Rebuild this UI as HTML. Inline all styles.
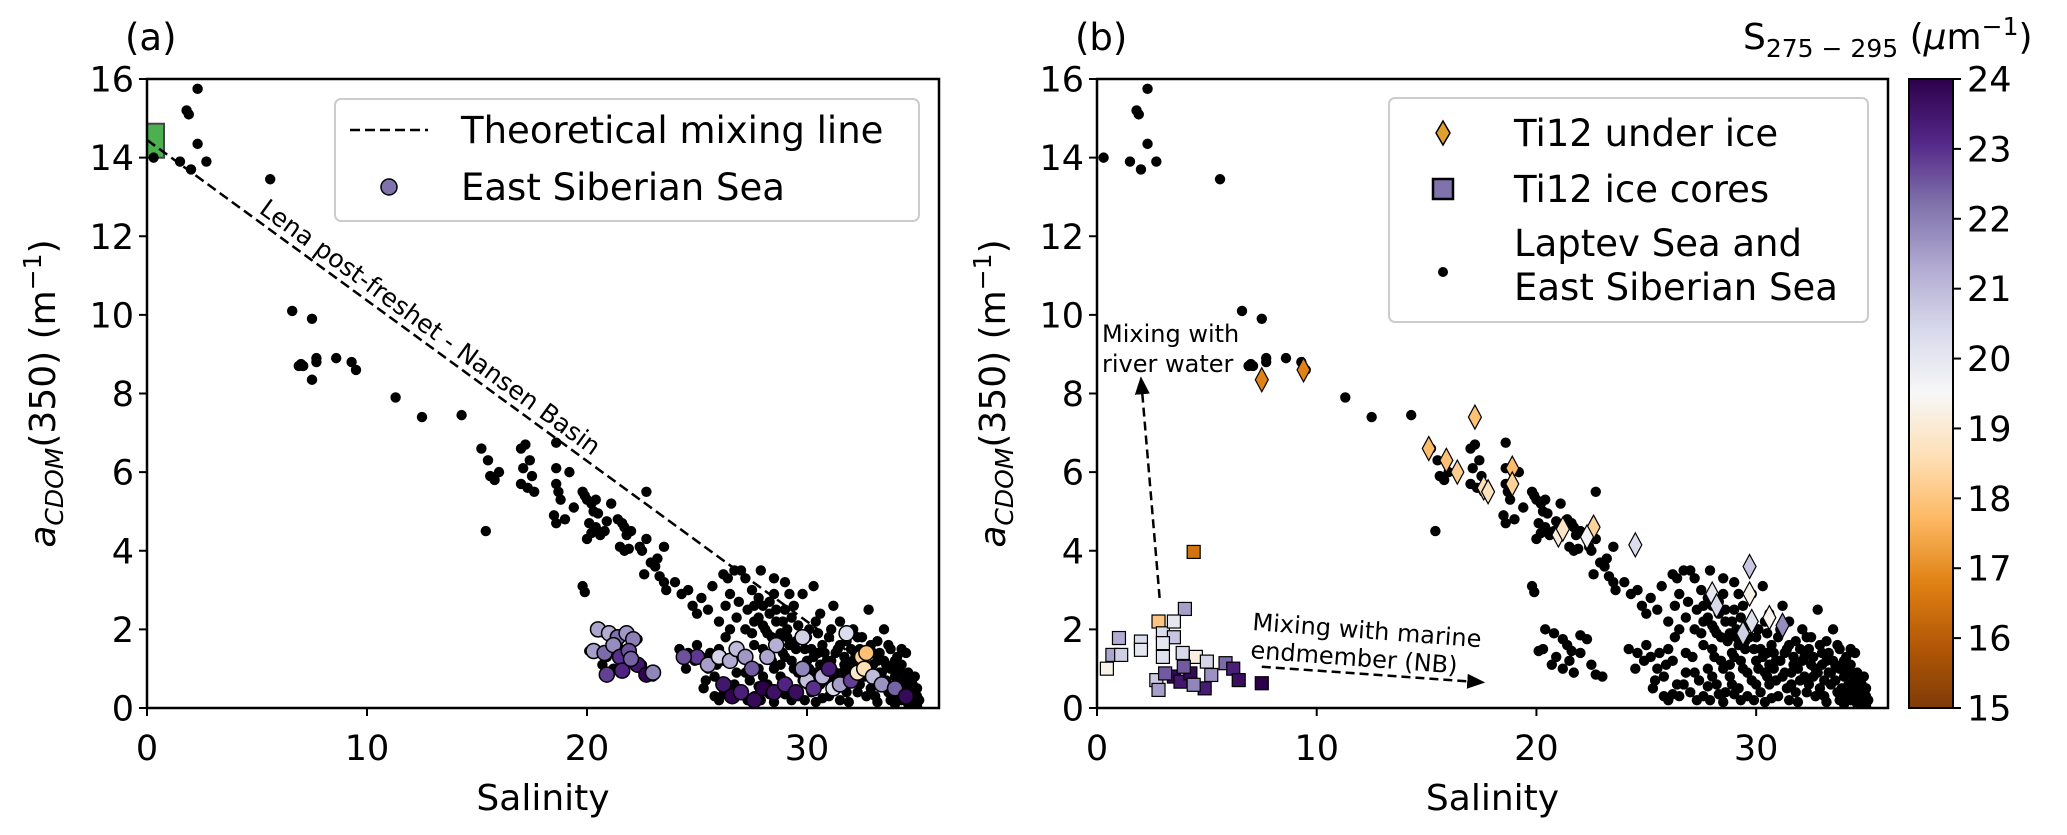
<!DOCTYPE html>
<html><head><meta charset="utf-8"><style>
html,body{margin:0;padding:0;background:#fff;}
svg{display:block;}
</style></head><body>
<svg id="fig" width="2067" height="835" viewBox="0 0 2067 835" xmlns="http://www.w3.org/2000/svg"></svg>
<script>
// ---------- DATA ----------
const xTicks=[0,10,20,30];
const yTicks=[0,2,4,6,8,10,12,14,16];
const cbTicks=[15,16,17,18,19,20,21,22,23,24];
const mixLineSal=[0,34.9];
const mixLineAcdom=[14.45,0.2];
const lenaSal=[0];
const lenaAcdom=[14.43];
const laptevPoints=[[0.3,14.0],[1.8,15.2],[1.9,15.1],[2.3,15.75],[2.3,14.35],[1.5,13.9],[2.0,13.7],[2.7,13.9],[5.6,13.45],
[6.6,10.1],[7.5,9.9],[6.9,8.7],[7.0,8.75],[7.1,8.7],[7.7,8.9],[7.7,8.8],[8.6,8.9],[9.3,8.8],[9.5,8.6],[7.5,8.35],[11.3,7.9],[12.5,7.4],[14.3,7.45],
[15.2,6.6],[15.5,6.3],[15.6,5.9],[15.8,5.8],[16,6.0],[15.4,4.5],
[17,6.6],[17.2,6.7],[17.1,6.1],[17.0,5.7],[17.4,6.3],[17.5,5.9],[17.6,5.5],[17.3,5.6],
[18.6,6.75],[18.6,6.1],[18.6,5.7],[18.7,5.5],[18.8,5.3],[18.6,4.7],[18.5,4.9],[19.2,6.0],[19.0,4.8],[19.4,5.1],
[19.8,5.5],[19.9,5.4],[20.0,5.3],[20.2,5.2],[20.3,5.0],[20.5,4.95],[20.1,4.7],[20.4,4.6],[20.0,4.3],[20.2,4.45],[20.6,4.4],[21.1,5.2],[20.9,4.75],[20.8,4.5],[20.4,5.3],
[21.4,4.8],[21.6,4.7],[21.7,4.6],[21.8,4.4],[21.5,4.1],[21.7,4.0],[21.9,4.05],[22,4.5],[22.4,4.1],[22.7,4.3],[22.7,5.5],[22.5,4.0],[22.9,3.7],[23.1,3.6],[22.6,3.4],[23.3,3.35],[23.5,3.2],[23.6,3.0],[23.2,3.8],[23.5,4.1],
[19.8,3.1],[19.9,2.95],[20.4,2.0],[20.8,1.9],[21.2,1.75],[21.4,1.6],[21.6,1.45],[21.5,1.2],[22,1.85],[22.3,1.75],[22,1.4],[22.5,1.1],[22.7,0.85],[23,0.8],[20.3,1.5],[20.9,1.3],[20.7,1.1],[21.2,1.0],[21.7,0.9],[20.1,1.45],
[24,3.2],[24.3,2.9],[24.6,3.0],[24.8,2.6],[25,2.4],[25.2,2.8],[25.5,2.5],[25.7,3.1],[26.0,2.2],[26.2,3.4],[26.4,3.3],[26.5,2.9],[26.7,3.5],[26.9,2.7],[27.0,3.5],[27.2,3.3],[27.3,2.5],[27.5,3.0],[27.6,2.2],[27.8,2.8],[28.0,2.6],[28.1,2.0],[28.3,2.4],[28.5,3.3],[28.6,2.2],[28.8,1.9],[29.0,2.5],[29.1,2.0],[29.3,2.3],[29.5,1.7],[29.6,2.1],[29.8,2.9],[30.0,1.8],[30.2,1.5],[30.4,2.2],[30.5,1.9],[30.7,1.6],[30.9,1.2],[31.0,1.8],[31.3,1.4],[31.5,2.2],[31.7,1.1],[32,1.5],[32.2,1.3],[32.5,1.8],[32.7,1.0],[33,1.4],[33.2,1.2],[33.4,0.9],[33.6,1.1],[33.8,1.5],[34,0.8],[34.2,1.0],[34.4,0.6],[34.6,0.5],[34.8,0.3],[34.9,0.15],[35,0.05],[34.7,0.7],[34.5,1.4],[33.5,2.0],[32.8,2.5],[32.1,2.0],[31.2,2.6],[30.3,3.1],[29.0,3.2],[27.9,3.5],
[24.2,1.5],[24.6,1.4],[24.9,1.2],[25.2,1.3],[25.5,1.0],[25.8,0.8],[26.0,1.5],[26.2,1.2],[26.4,0.6],[26.5,0.3],[26.8,0.9],[27.0,0.4],[27.1,1.3],[27.4,0.7],[27.6,0.3],[27.8,1.0],[28.0,1.5],[28.2,0.6],[28.4,1.2],[28.6,0.4],[28.8,0.8],[29.0,1.3],[29.2,0.5],[29.4,1.0],[29.6,0.3],[29.8,0.7],[30,1.2],[30.2,0.4],[30.4,0.9],[30.6,0.6],[30.8,1.0],[31.0,0.3],[31.2,0.8],[31.4,0.5],[31.6,0.9],[31.8,0.4],[32.0,0.7],[32.3,0.4],[32.6,0.8],[32.9,0.5],[33.1,0.3],[33.4,0.6],[33.7,0.4],[34.0,0.3],[34.3,0.2],[34.6,0.1],[34.9,0.3],[35,0.5],[26.3,1.8],[27.5,1.9],[28.7,1.7],[29.5,1.5],[30.5,1.4],[25.3,0.5],[26.0,0.2],[27.3,0.2],[28.5,0.15],[29.9,0.2],[31.5,1.6],[32.5,1.1],[33.2,1.7],[34.1,1.3],
[27.6,2.6],[27.8,2.3],[28.0,2.1],[28.2,1.9],[28.4,1.8],[28.3,2.7],[28.6,2.5],[28.9,2.2],[29.1,1.8],[29.2,1.6],[29.4,2.6],[28.9,1.4],[28.8,1.1],[29.3,1.2],[29.7,1.8],[29.9,1.5],[30.1,1.0],[30.3,1.3],[30.0,0.6],[30.5,0.8],[30.6,1.1],[30.8,1.4],[30.9,0.7],[31.1,1.2],[31.3,0.9],[31.4,1.5],[31.6,0.6],[31.7,1.3],[31.9,1.0],[32.1,1.2],[32.2,0.8],[32.4,1.5],[32.4,0.6],[32.6,1.3],[32.8,0.9],[32.9,1.6],[33.0,1.1],[33.1,0.7],[33.3,1.4],[33.3,0.9],[33.5,1.2],[33.6,0.7],[33.8,1.0],[33.9,0.5],[34.0,1.2],[34.1,0.9],[34.2,0.6],[34.3,1.1],[34.4,0.8],[34.5,0.4],[34.6,0.9],[34.7,0.3],[34.8,0.6],[34.9,0.8],[35.0,0.3],[34.9,0.5],[35.1,0.2],[35.0,0.1],[34.7,0.05],[34.3,0.4],[33.8,0.2],[32.7,0.3],[31.5,0.2],[30.7,0.25],[29.3,0.2],[28.3,0.35],[27.8,0.55],[27.2,0.9],[26.8,1.4],[26.5,2.0],[26.3,2.6],[26.8,2.3],[27.2,2.0],[27.6,1.6],[28.1,1.3],[28.5,1.0],[28.9,0.6],[29.6,0.9],[30.1,2.0],[30.6,2.4],[31.1,2.0],[31.8,1.7],[32.3,1.8],[33.7,1.6],[34.3,1.5],[29.2,2.9],[28.5,2.9],[25.0,1.6],[25.6,1.4],[25.9,1.1],[24.5,1.0],[25.4,0.7],[26.7,0.6],[27.9,0.2],[26.2,0.35],[25.8,0.3],[28.0,0.8],[29.0,0.35],[30.4,0.15],[31.9,0.15],[33.2,0.15],[34.0,0.1]];
const essSal=[20.5,21.0,21.4,21.8,22.1,20.3,20.8,21.2,21.5,21.9,22.3,22.7,23.0,20.9,21.6,22.0,
25.0,25.5,26.0,26.5,26.8,27.2,27.5,26.2,26.6,27.0,27.6,28.0,28.5,28.2,28.6,29.0,29.5,30.0,30.3,29.8,29.8,30.7,31.2,31.0,31.5,32,32.5,32.7,32.3,32.6,33.0,33.4,34,34.5,31.8,24.4];
const essAcdom=[2.0,1.9,1.8,1.9,1.75,1.45,1.4,1.6,1.3,1.45,1.1,0.85,0.9,0.85,0.95,1.25,
1.3,1.1,1.3,1.2,1.5,1.3,1.0,0.6,0.3,0.4,0.2,0.5,0.4,1.3,1.6,0.6,0.4,0.7,0.5,1.8,1.0,0.8,0.5,1.0,0.6,0.7,1.3,1.4,0.9,1.0,0.8,0.6,0.5,0.3,1.9,1.3];
const essSlope=[21.4,21.3,22.2,21.6,22.0,21.5,22.3,21.8,23.0,22.6,23.5,23.9,21.9,22.8,23.2,22.4,
22.9,21.5,20.5,21.3,21.0,21.6,22.5,23.5,23.9,23.3,23.8,24,23.6,21.4,21.2,23.2,23.7,20.9,23.0,20.6,21.9,21.1,20.4,23.4,21.5,22.8,18.3,17.9,18.9,18.6,21.0,21.7,22.4,23.8,20.3,22.6];
const iceSal=[7.5,9.4,15.1,15.9,16.4,17.2,17.6,17.8,18.9,18.9,21.0,21.2,22.6,22.3,24.5,28.0,28.2,29.7,29.7,30.6,31.2,29.8,29.4];
const iceAcdom=[8.35,8.6,6.6,6.3,6.0,7.4,5.6,5.5,6.1,5.7,4.4,4.55,4.6,4.35,4.15,2.9,2.6,3.6,2.9,2.3,2.1,2.2,1.9];
const iceSlope=[16.8,16.8,17.8,17.9,18.2,17.9,18.6,18.7,17.8,18.3,19.2,18.8,18.3,19.6,20.3,20.0,20.4,20.8,19.3,19.4,21.8,20.2,20.6];
const coreSal=[4.4,2.8,4.0,1.0,2.0,0.7,1.1,0.45,2.0,3.0,3.5,3.5,3.0,3.0,3.9,4.5,5.0,5.85,6.2,2.7,2.8,3.5,3.8,4.25,5.2,4.9,6.45,7.5,4.4,3.1,3.95];
const coreAcdom=[3.97,2.2,2.52,1.78,1.69,1.35,1.35,1.0,1.48,1.9,2.2,1.8,1.65,1.3,1.4,1.3,1.18,1.14,1.0,0.71,0.46,0.8,0.67,0.88,0.84,0.5,0.71,0.63,0.59,0.88,1.05];
const coreSlope=[16.5,18,21.5,21.3,20.3,21.4,20.6,19.3,20,20.3,20,20.8,20,20.2,20.4,19.2,20.5,22.3,23.3,20.7,21.5,23.8,23.5,23.8,21.7,23.4,23.7,24,21.9,22.5,22.5];
const riverArrowSal=[2.85,2.0];
const riverArrowAcdom=[2.8,8.4];
const marineArrowSal=[7.5,17.6];
const marineArrowAcdom=[1.05,0.65];

// ---------- helpers ----------
const NS='http://www.w3.org/2000/svg';
const svg=document.getElementById('fig');
function mk(tag,attrs,parent){const e=document.createElementNS(NS,tag);for(const k in attrs)e.setAttribute(k,attrs[k]);(parent||svg).appendChild(e);return e;}
const Y0=708,Y1=79,YMAX=16;
const yS=v=>Y0-(v/YMAX)*(Y0-Y1);
const A={x0:147,x1:939,xmax:36};
const B={x0:1097,x1:1888,xmax:36};
const xS=(ax,s)=>ax.x0+(s/ax.xmax)*(ax.x1-ax.x0);
const stops=['#7f3b08','#b35806','#e08214','#fdb863','#fee0b6','#f7f7f7','#d8daeb','#b2abd2','#8073ac','#542788','#2d004b'];
function hex(c){return [1,3,5].map(i=>parseInt(c.substr(i,2),16));}
function cmap(v){let t=(v-15)/9;t=Math.max(0,Math.min(1,t))*10;const i=Math.min(9,Math.floor(t));const f=t-i;const a=hex(stops[i]),b=hex(stops[i+1]);return 'rgb('+a.map((x,k)=>Math.round(x+(b[k]-x)*f)).join(',')+')';}
const FONT='"DejaVu Sans","Liberation Sans",sans-serif';
function txt(x,y,s,size,attrs,parent){const t=mk('text',Object.assign({x:x,y:y,'font-family':FONT,'font-size':size,fill:'#000'},attrs||{}),parent);t.textContent=s;return t;}

const defs=mk('defs',{});
[['clipA',A],['clipB',B]].forEach(([id,ax])=>{const c=mk('clipPath',{id:id},defs);mk('rect',{x:ax.x0,y:Y1,width:ax.x1-ax.x0,height:Y0-Y1},c);});
const mkArrow=mk('marker',{id:'ah',viewBox:'0 0 12 10',markerWidth:18,markerHeight:15,refX:11,refY:5,orient:'auto',markerUnits:'userSpaceOnUse'},defs);
mk('path',{d:'M0,0 L12,5 L0,10 z',fill:'#000'},mkArrow);

const TICK=35;
function axes(ax,name,lbl){
  const g=mk('g',{});
  
  
  yTicks.forEach(v=>{
    const ln=mk('line',{x1:ax.x0-8,x2:ax.x0,y1:yS(v),y2:yS(v),stroke:'#000','stroke-width':2},g);
    
    
    const t=txt(ax.x0-13,yS(v)+12.5,String(v),TICK,{'text-anchor':'end'},g);
    
    
  });
  xTicks.forEach(v=>{
    const X=xS(ax,v);
    const ln=mk('line',{x1:X,x2:X,y1:Y0,y2:Y0+8,stroke:'#000','stroke-width':2},g);
    
    
    const t=txt(X,Y0+52,String(v),TICK,{'text-anchor':'middle'},g);
    
    
  });
  const xl=txt((ax.x0+ax.x1)/2,Y0+102,'Salinity',36,{'text-anchor':'middle'},g);
  
  
  const yx=ax.x0-92, yy=(Y0+Y1)/2;
  const yl=mk('text',{x:yx,y:yy,'font-family':FONT,'font-size':36,'text-anchor':'middle',transform:'rotate(-90 '+yx+' '+yy+')'},g);
  
  
  yl.innerHTML='<tspan font-style="italic">a</tspan><tspan font-style="italic" font-size="25" dy="8">CDOM</tspan><tspan dy="-8">(350) (m</tspan><tspan font-size="25" dy="-14">−1</tspan><tspan dy="14">)</tspan>';
  const pl=txt(ax.x0-22,50,lbl,37,{},g);
  
  
  return g;
}
function frame(ax,name){
  const r=mk('rect',{x:ax.x0,y:Y1,width:ax.x1-ax.x0,height:Y0-Y1,fill:'none',stroke:'#000','stroke-width':2.5});
  
  
}

// ---------- PANEL A ----------
axes(A,'panel-a','(a)');
const ga=mk('g',{'clip-path':'url(#clipA)'});


lenaSal.forEach((s,i)=>{
  const r=mk('rect',{x:xS(A,s)-17,y:yS(lenaAcdom[i])-17,width:34,height:34,fill:'#4caf50',stroke:'#444','stroke-width':2},ga);
  
  
});
laptevPoints.forEach(p=>{
  const c=mk('circle',{cx:xS(A,p[0]),cy:yS(p[1]),r:5.2,fill:'#000'},ga);
  
  
});
const ml=mk('line',{x1:xS(A,mixLineSal[0]),y1:yS(mixLineAcdom[0]),x2:xS(A,mixLineSal[1]),y2:yS(mixLineAcdom[1]),stroke:'#000','stroke-width':2.5,'stroke-dasharray':'10,5'},ga);


essSal.forEach((s,i)=>{
  const c=mk('circle',{cx:xS(A,s),cy:yS(essAcdom[i]),r:7.5,fill:cmap(essSlope[i]),stroke:'#000','stroke-width':1.5},ga);
  
  
});
{
  const ang=Math.atan2(yS(mixLineAcdom[1])-yS(mixLineAcdom[0]),xS(A,mixLineSal[1])-xS(A,mixLineSal[0]))*180/Math.PI;
  const t=txt(258,212,'Lena post-freshet - Nansen Basin',25,{transform:'rotate('+ang.toFixed(2)+' 258 212)'});
  
  
}
frame(A,'panel-a');
{
  const lg=mk('g',{});
  
  
  mk('rect',{x:335,y:99,width:584,height:122,rx:6,fill:'#fff','fill-opacity':0.8,stroke:'#ccc','stroke-width':2},lg);
  const l=mk('line',{x1:350,x2:428,y1:130,y2:130,stroke:'#000','stroke-width':2.5,'stroke-dasharray':'10,5'},lg);
  
  
  const t1=txt(461,143,'Theoretical mixing line',37,{},lg);
  
  
  const c=mk('circle',{cx:389,cy:187,r:8,fill:'#8073ac',stroke:'#000','stroke-width':1.5},lg);
  
  
  const t2=txt(461,200,'East Siberian Sea',37,{},lg);
  
  
}

// ---------- PANEL B ----------
axes(B,'panel-b','(b)');
const gb=mk('g',{'clip-path':'url(#clipB)'});


laptevPoints.forEach(p=>{
  const c=mk('circle',{cx:xS(B,p[0]),cy:yS(p[1]),r:5.2,fill:'#000'},gb);
  
  
});
coreSal.forEach((s,i)=>{
  const X=xS(B,s),Y=yS(coreAcdom[i]);
  const r=mk('rect',{x:X-6.5,y:Y-6.5,width:13,height:13,fill:cmap(coreSlope[i]),stroke:'#000','stroke-width':1.2},gb);
  
  
});
iceSal.forEach((s,i)=>{
  const X=xS(B,s),Y=yS(iceAcdom[i]);
  const p=mk('path',{d:'M'+X+','+(Y-12)+' L'+(X+6.5)+','+Y+' L'+X+','+(Y+12)+' L'+(X-6.5)+','+Y+' Z',fill:cmap(iceSlope[i]),stroke:'#000','stroke-width':1.2},gb);
  
  
});
{
  const a1=mk('line',{x1:xS(B,riverArrowSal[0]),y1:yS(riverArrowAcdom[0]),x2:xS(B,riverArrowSal[1]),y2:yS(riverArrowAcdom[1]),stroke:'#000','stroke-width':2.5,'stroke-dasharray':'9,5','marker-end':'url(#ah)'});
  
  
  const t1=txt(1102,342,'Mixing with',24);
  
  
  const t2=txt(1102,372,'river water',24);
  
  
  const a2=mk('line',{x1:xS(B,marineArrowSal[0]),y1:yS(marineArrowAcdom[0]),x2:xS(B,marineArrowSal[1]),y2:yS(marineArrowAcdom[1]),stroke:'#000','stroke-width':2.5,'stroke-dasharray':'9,5','marker-end':'url(#ah)'});
  
  
  const t3=txt(1252,630,'Mixing with marine',24,{transform:'rotate(4.3 1252 630)'});
  
  
  const t4=txt(1250,658,'endmember (NB)',24,{transform:'rotate(4.3 1250 658)'});
  
  
}
frame(B,'panel-b');
{
  const lg=mk('g',{});
  
  
  mk('rect',{x:1389,y:98,width:479,height:224,rx:6,fill:'#fff','fill-opacity':0.8,stroke:'#ccc','stroke-width':2},lg);
  const d=mk('path',{d:'M1443,121 L1450,133 L1443,145 L1436,133 Z',fill:'#e0a030',stroke:'#000','stroke-width':1.5},lg);
  
  
  const t1=txt(1514,146,'Ti12 under ice',37,{},lg);
  
  
  const s=mk('rect',{x:1433,y:179,width:20,height:20,fill:'#8073ac',stroke:'#000','stroke-width':2.5},lg);
  
  
  const t2=txt(1514,202,'Ti12 ice cores',37,{},lg);
  
  
  const c=mk('circle',{cx:1443,cy:272,r:5,fill:'#000'},lg);
  
  
  const t3=txt(1514,256,'Laptev Sea and',37,{},lg);
  
  
  const t4=txt(1514,300,'East Siberian Sea',37,{},lg);
  
  
}

// ---------- COLORBAR ----------
{
  const lg=mk('linearGradient',{id:'cbg',x1:0,y1:1,x2:0,y2:0},defs);
  stops.forEach((c,i)=>mk('stop',{offset:(i*10)+'%','stop-color':c},lg));
  const CX0=1909,CX1=1953;
  const cb=mk('rect',{x:CX0,y:Y1,width:CX1-CX0,height:Y0-Y1,fill:'url(#cbg)',stroke:'#000','stroke-width':2});
  
  
  const cy=v=>Y0-(v-15)/9*(Y0-Y1);
  cbTicks.forEach(v=>{
    const l=mk('line',{x1:CX1,x2:CX1+8,y1:cy(v),y2:cy(v),stroke:'#000','stroke-width':2});
    
    
    const t=txt(CX1+14,cy(v)+12.5,String(v),TICK);
    
    
  });
  const tt=mk('text',{x:1743,y:49,'font-family':FONT,'font-size':36});
  
  
  tt.innerHTML='S<tspan font-size="25" dy="8">275 − 295</tspan><tspan dy="-8"> (</tspan><tspan font-style="italic">μ</tspan>m<tspan font-size="25" dy="-14">−1</tspan><tspan dy="14">)</tspan>';
}
</script>
</body></html>
